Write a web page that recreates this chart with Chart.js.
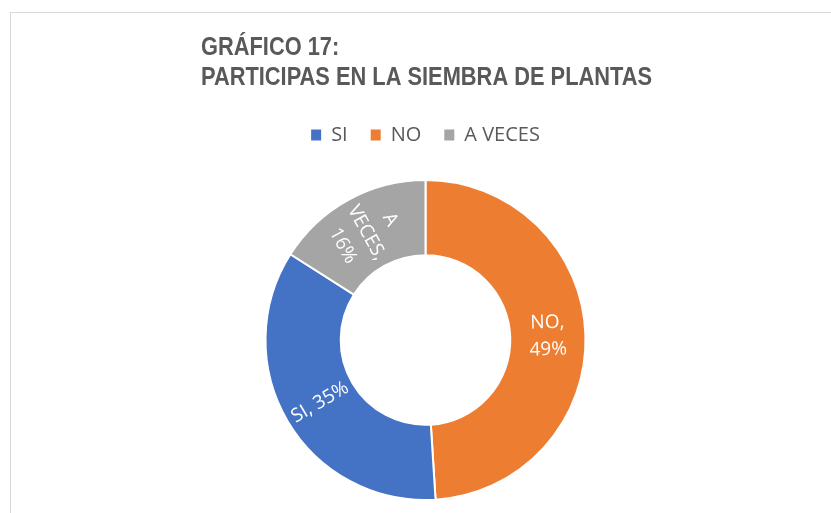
<!DOCTYPE html>
<html>
<head>
<meta charset="utf-8">
<script src="https://cdn.jsdelivr.net/npm/chart.js@4.4.1/dist/chart.umd.min.js"></script>
<style>
  html, body { margin: 0; padding: 0; background: #ffffff; }
  #wrap { width: 831px; height: 513px; position: relative; }
</style>
</head>
<body>
<div id="wrap"><canvas id="c" width="831" height="513"></canvas></div>
<script>
const titleLines = ["GRÁFICO 17:", "PARTICIPAS EN LA SIEMBRA DE PLANTAS"];
// slices in drawing order (clockwise from 12 o'clock)
const categories = ["NO", "SI", "A VECES"];
const percentages = [49, 35, 16];
const sliceColors = ["#ED7D31", "#4472C4", "#A5A5A5"];
// legend order as shown in the reference
const legendOrder = ["SI", "NO", "A VECES"];
const labelWrapWidths = [45, 200, 60];

const textGray = "#595959";

const framePlugin = {
  id: "frame",
  beforeDraw(chart) {
    const ctx = chart.ctx;
    ctx.save();
    ctx.fillStyle = "#ffffff";
    ctx.fillRect(0, 0, chart.width, chart.height);
    ctx.strokeStyle = "#d9d9d9";
    ctx.lineWidth = 1;
    ctx.strokeRect(10.5, 12.5, chart.width + 20, chart.height + 20);
    ctx.restore();
  }
};

const titlePlugin = {
  id: "leftTitle",
  afterDraw(chart) {
    const ctx = chart.ctx;
    ctx.save();
    ctx.fillStyle = textGray;
    ctx.font = "bold 25px 'Liberation Sans', Arial, sans-serif";
    ctx.textAlign = "left";
    ctx.textBaseline = "alphabetic";
    const w = ctx.measureText(titleLines[1]).width;
    const sx = 451 / w;
    ctx.translate(201, 0);
    ctx.scale(sx, 1);
    ctx.fillText(titleLines[0], 0, 55);
    ctx.fillText(titleLines[1], 0, 85);
    ctx.restore();
  }
};

const legendSpacer = {
  id: "legendSpacer",
  beforeInit(chart) {
    const origFit = chart.legend.fit;
    chart.legend.fit = function () {
      origFit.bind(this)();
      this.height += 12;
    };
  }
};

function wrapText(ctx, text, maxW) {
  const words = text.split(" ");
  const lines = [];
  let cur = "";
  words.forEach(w => {
    const test = cur ? cur + " " + w : w;
    if (cur && ctx.measureText(test).width > maxW) {
      lines.push(cur);
      cur = w;
    } else {
      cur = test;
    }
  });
  if (cur) lines.push(cur);
  return lines;
}

const sliceLabels = {
  id: "sliceLabels",
  afterDatasetsDraw(chart) {
    const ctx = chart.ctx;
    const meta = chart.getDatasetMeta(0);
    ctx.save();
    ctx.font = "19px 'Open Sans', sans-serif";
    ctx.fillStyle = "#ffffff";
    ctx.textAlign = "center";
    ctx.textBaseline = "middle";
    meta.data.forEach((arc, i) => {
      const p = arc.getProps(["x", "y", "startAngle", "endAngle", "innerRadius", "outerRadius"], true);
      const mid = (p.startAngle + p.endAngle) / 2;
      const r = (p.innerRadius + p.outerRadius) / 2;
      const cx = p.x + Math.cos(mid) * r;
      const cy = p.y + Math.sin(mid) * r;
      let rot = mid + Math.PI;
      while (rot > Math.PI) rot -= 2 * Math.PI;
      while (rot <= -Math.PI) rot += 2 * Math.PI;
      if (rot > Math.PI / 2) rot -= Math.PI;
      if (rot < -Math.PI / 2) rot += Math.PI;
      const text = categories[i] + ", " + percentages[i] + "%";
      const lines = wrapText(ctx, text, labelWrapWidths[i]);
      const lh = 27;
      ctx.save();
      ctx.translate(cx, cy);
      ctx.rotate(rot);
      lines.forEach((ln, k) => {
        ctx.fillText(ln, 0, (k - (lines.length - 1) / 2) * lh);
      });
      ctx.restore();
    });
    ctx.restore();
  }
};

new Chart(document.getElementById("c"), {
  type: "doughnut",
  data: {
    labels: categories,
    datasets: [{
      data: percentages,
      backgroundColor: sliceColors,
      borderColor: "#ffffff",
      borderWidth: 2,
      hoverOffset: 0
    }]
  },
  options: {
    responsive: false,
    animation: false,
    devicePixelRatio: 1,
    rotation: 0,
    cutout: "53%",
    radius: 160,
    layout: { padding: { left: 20, right: 0, top: 102, bottom: 0 } },
    plugins: {
      tooltip: { enabled: false },
      title: { display: false },
      legend: {
        display: true,
        position: "top",
        labels: {
          boxWidth: 10,
          boxHeight: 11,
          padding: 23,
          color: textGray,
          font: { family: "'Open Sans', sans-serif", size: 20 },
          generateLabels(chart) {
            const items = Chart.overrides.doughnut.plugins.legend.labels.generateLabels(chart);
            items.forEach(it => { it.lineWidth = 0; it.strokeStyle = it.fillStyle; });
            return items;
          },
          sort(a, b) {
            return legendOrder.indexOf(a.text) - legendOrder.indexOf(b.text);
          }
        }
      }
    }
  },
  plugins: [framePlugin, titlePlugin, legendSpacer, sliceLabels]
});
</script>
</body>
</html>
